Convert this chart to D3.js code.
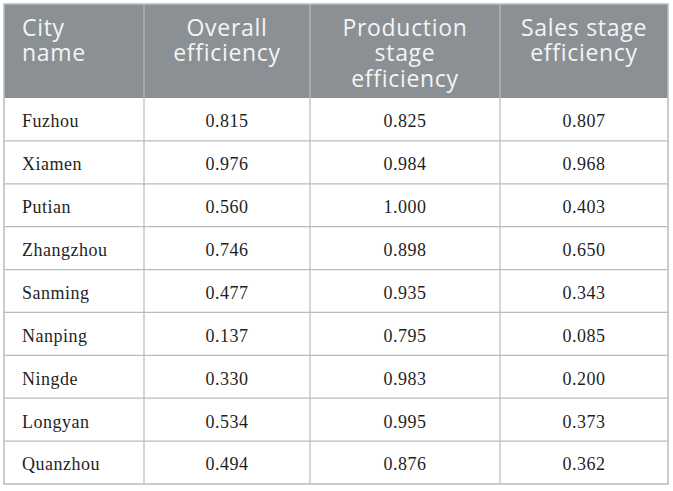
<!DOCTYPE html>
<html>
<head>
<meta charset="utf-8">
<script src="https://cdn.jsdelivr.net/npm/d3@7"></script>
<style>
  body { margin: 0; background: #fff; }
  svg { display: block; }
</style>
</head>
<body>
<div id="table"></div>
<script>
const headers = [["City", "name"], ["Overall", "efficiency"], ["Production", "stage", "efficiency"], ["Sales stage", "efficiency"]];
const cities = ["Fuzhou", "Xiamen", "Putian", "Zhangzhou", "Sanming", "Nanping", "Ningde", "Longyan", "Quanzhou"];
const overall = [0.815, 0.976, 0.560, 0.746, 0.477, 0.137, 0.330, 0.534, 0.494];
const production = [0.825, 0.984, 1.000, 0.898, 0.935, 0.795, 0.983, 0.995, 0.876];
const sales = [0.807, 0.968, 0.403, 0.650, 0.343, 0.085, 0.200, 0.373, 0.362];

const width = 673, height = 491;
const tLeft = 4, tRight = 668, tTop = 4, headBottom = 98, tBottom = 484;
const colEdges = [tLeft, 144, 310, 500, tRight];

const svg = d3.select("#table").append("svg")
    .attr("width", width)
    .attr("height", height);

// rows scale for body
const y = d3.scaleBand().domain(cities).range([headBottom, tBottom]);

// header background
svg.append("rect")
    .attr("x", tLeft).attr("y", tTop)
    .attr("width", tRight - tLeft).attr("height", headBottom - tTop)
    .attr("fill", "#8b9094");

// header text, one text per line
headers.forEach((lines, i) => {
    const x0 = colEdges[i], x1 = colEdges[i + 1];
    lines.forEach((line, j) => {
        svg.append("text")
            .attr("x", i === 0 ? x0 + 18 : (x0 + x1) / 2)
            .attr("y", 35.5 + j * 25.5)
            .attr("font-family", "'Open Sans', sans-serif")
            .attr("font-size", 23)
            .attr("letter-spacing", 0.7)
            .attr("fill", "#f4f4f4")
            .attr("text-anchor", i === 0 ? "start" : "middle")
            .text(line);
    });
});

// body text
const rows = cities.map((c, i) => [c, overall[i], production[i], sales[i]]);
rows.forEach((r, i) => {
    const cy = y(cities[i]) + y.bandwidth() / 2;
    r.forEach((v, k) => {
        const x0 = colEdges[k], x1 = colEdges[k + 1];
        svg.append("text")
            .attr("x", k === 0 ? x0 + 18 : (x0 + x1) / 2)
            .attr("y", cy)
            .attr("dy", "0.44em")
            .attr("text-anchor", k === 0 ? "start" : "middle")
            .attr("font-family", "'Liberation Serif', 'DejaVu Serif', serif")
            .attr("font-size", 18)
            .attr("letter-spacing", 0.5)
            .attr("fill", "#1f1f1f")
            .text(k === 0 ? v : d3.format(".3f")(v));
    });
});

// grid lines
const stroke = "#b9bcbd";
cities.slice(1).forEach(c => {
    svg.append("line")
        .attr("x1", tLeft).attr("x2", tRight)
        .attr("y1", y(c)).attr("y2", y(c))
        .attr("stroke", stroke).attr("stroke-width", 1.2);
});
colEdges.slice(1, -1).forEach(x => {
    svg.append("line")
        .attr("x1", x).attr("x2", x)
        .attr("y1", tTop).attr("y2", tBottom)
        .attr("stroke", stroke).attr("stroke-width", 1.2);
});
svg.append("rect")
    .attr("x", tLeft).attr("y", tTop)
    .attr("width", tRight - tLeft).attr("height", tBottom - tTop)
    .attr("fill", "none")
    .attr("stroke", stroke).attr("stroke-width", 1.5);
</script>
</body>
</html>
